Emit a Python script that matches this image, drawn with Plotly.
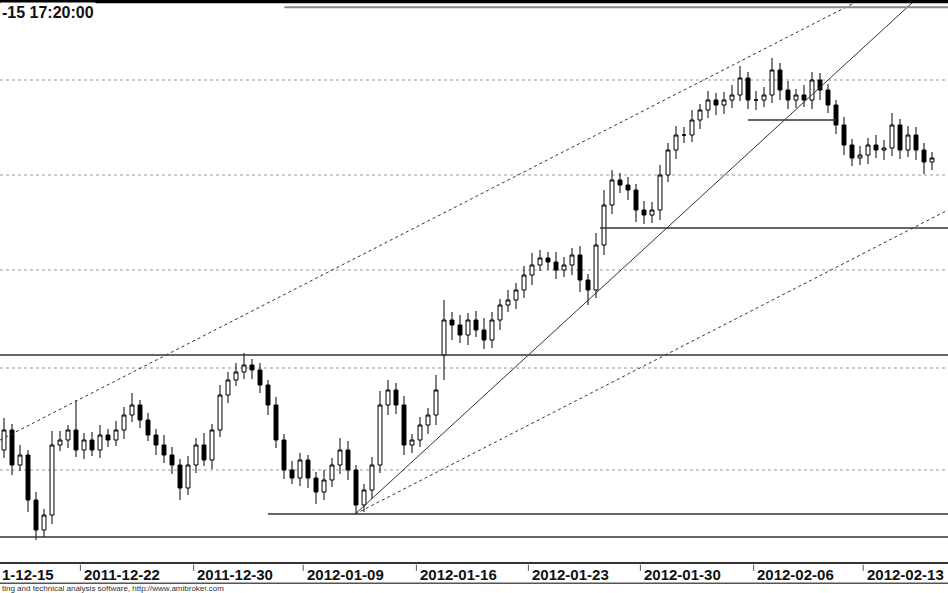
import plotly.graph_objects as go

# bar closes (chart units), one bar per ~1/7 trading day
close = [170, 135, 145, 100, 70, 85, 155, 160, 170, 150,
         160, 150, 165, 160, 170, 185, 195, 180, 165, 155,
         145, 135, 112, 135, 155, 140, 170, 205, 220, 228,
         235, 230, 215, 195, 160, 130, 122, 140, 122, 108,
         120, 135, 150, 130, 95, 110, 135, 195, 210, 195,
         155, 160, 175, 185, 210, 280, 275, 265, 280, 270,
         260, 280, 295, 300, 310, 325, 335, 342, 338, 330,
         335, 345, 320, 310, 355, 395, 420, 415, 410, 390,
         385, 390, 425, 450, 465, 465, 480, 490, 500, 495,
         500, 505, 522, 500, 500, 505, 530, 510, 500, 505,
         500, 520, 510, 495, 475, 455, 442, 445, 455, 450,
         452, 475, 450, 465, 450, 438, 442]
opens = [150, 170, 135, 145, 100, 70, 85, 155, 160, 170,
         150, 160, 150, 165, 160, 170, 185, 195, 180, 165,
         155, 145, 135, 112, 135, 155, 140, 170, 205, 220,
         228, 235, 230, 215, 195, 160, 130, 122, 140, 122,
         108, 120, 135, 150, 130, 95, 110, 135, 195, 210,
         195, 155, 160, 175, 185, 245, 280, 275, 265, 280,
         270, 260, 280, 295, 300, 310, 325, 335, 342, 338,
         330, 335, 345, 320, 310, 355, 395, 420, 415, 410,
         390, 385, 390, 425, 450, 465, 465, 480, 490, 500,
         495, 500, 505, 522, 500, 500, 505, 530, 510, 500,
         505, 500, 520, 510, 495, 475, 455, 442, 445, 455,
         450, 452, 475, 450, 465, 450, 438]
wick_up = [12, 6, 10, 5, 8, 6, 14, 9, 5, 30,
           7, 8, 10, 6, 9, 8, 12, 5, 7, 6,
           10, 8, 6, 9, 7, 12, 6, 10, 8, 9,
           12, 6, 7, 5, 8, 6, 9, 7, 5, 6,
           10, 7, 12, 9, 5, 6, 8, 14, 10, 7,
           9, 6, 8, 7, 15, 20, 8, 10, 7, 9,
           12, 8, 6, 10, 7, 9, 12, 8, 6, 10,
           8, 7, 9, 6, 12, 15, 10, 7, 8, 6,
           9, 8, 10, 7, 9, 8, 10, 6, 9, 7,
           8, 10, 12, 6, 9, 8, 12, 7, 9, 6,
           10, 8, 7, 6, 5, 8, 6, 9, 7, 10,
           8, 12, 6, 9, 8, 7, 6]
wick_dn = [8, 10, 6, 12, 10, 7, 9, 6, 8, 7,
           9, 6, 8, 7, 6, 9, 7, 8, 6, 10,
           8, 9, 12, 7, 8, 6, 9, 7, 8, 6,
           7, 9, 8, 10, 8, 9, 6, 8, 10, 12,
           8, 7, 9, 10, 8, 7, 9, 8, 10, 9,
           10, 8, 7, 9, 10, 25, 15, 8, 10, 7,
           9, 8, 10, 7, 9, 8, 10, 6, 8, 9,
           7, 10, 12, 15, 8, 10, 9, 8, 10, 12,
           9, 8, 10, 7, 9, 8, 7, 9, 8, 10,
           9, 8, 6, 9, 10, 7, 8, 10, 9, 8,
           7, 9, 10, 8, 9, 10, 8, 7, 9, 8,
           10, 8, 9, 7, 10, 12, 8]

high = [max(o, c) + w for o, c, w in zip(opens, close, wick_up)]
low = [min(o, c) - w for o, c, w in zip(opens, close, wick_dn)]
bars = list(range(len(close)))

week_labels = ["2011-12-22", "2011-12-30", "2012-01-09", "2012-01-16",
               "2012-01-23", "2012-01-30", "2012-02-06", "2012-02-13"]
week_pos = [9.75, 23.9, 37.6, 51.75, 65.75, 79.75, 93.9, 107.6]

grid_levels = [520, 425, 330, 232, 130]
support_lines = [(-0.5, 118, 245), (-0.5, 118, 63), (33, 118, 86), (74.5, 118, 372), (93, 104, 480)]
trend_lines = [  # x0, y0, x1, y1, dash
    (43.9, 86, 113.9, 600, "solid"),
    (-0.5, 160, 107, 600, "dash"),
    (43.9, 86, 118, 390, "dash"),
]

fig = go.Figure(go.Candlestick(
    x=bars, open=opens, high=high, low=low, close=close,
    increasing=dict(line=dict(color="black", width=1), fillcolor="white"),
    decreasing=dict(line=dict(color="black", width=1), fillcolor="black"),
    whiskerwidth=0, showlegend=False))

for g in grid_levels:
    fig.add_shape(type="line", x0=-0.5, x1=118, y0=g, y1=g,
                  line=dict(color="#999", width=1, dash="dot"), layer="below")
for x0, x1, y in support_lines:
    fig.add_shape(type="line", x0=x0, x1=x1, y0=y, y1=y, line=dict(color="#333", width=1.3))
for x0, y0, x1, y1, d in trend_lines:
    fig.add_shape(type="line", x0=x0, y0=y0, x1=x1, y1=y1,
                  line=dict(color="#333", width=1, dash=d if d == "solid" else "3px,3px"))

# frame lines
fig.add_shape(type="line", xref="paper", yref="paper", x0=0, x1=1, y0=0.998, y1=0.998,
              line=dict(color="black", width=4))
fig.add_shape(type="line", xref="paper", yref="paper", x0=0.3, x1=1, y0=0.987, y1=0.987,
              line=dict(color="#888", width=2))
fig.add_shape(type="line", xref="paper", yref="paper", x0=0, x1=1, y0=0, y1=0,
              line=dict(color="#333", width=2))
fig.add_shape(type="line", xref="paper", yref="paper", x0=0, x1=1, y0=-0.036, y1=-0.036,
              line=dict(color="#555", width=1.5))

for lab, p in zip(week_labels, week_pos):
    fig.add_annotation(x=p, y=-0.002, xref="x", yref="paper", yanchor="top", xanchor="left",
                       text="<b>" + lab + "</b>", showarrow=False, font=dict(size=15, color="#111"))
    fig.add_shape(type="line", x0=p - 0.2, x1=p - 0.2, yref="paper", y0=-0.003, y1=-0.014,
                  line=dict(color="#555", width=1))
fig.add_annotation(x=0, y=-0.002, xref="paper", yref="paper", yanchor="top", xanchor="left",
                   text="<b>1-12-15</b>", showarrow=False, font=dict(size=15, color="#111"))
fig.add_annotation(x=0, y=-0.034, xref="paper", yref="paper", yanchor="top", xanchor="left",
                   text="ting and technical analysis software, http://www.amibroker.com",
                   showarrow=False, font=dict(size=8, color="#333"))
fig.add_annotation(x=0, y=0.996, xref="paper", yref="paper", yanchor="top", xanchor="left",
                   text="<b>-15 17:20:00</b>", showarrow=False, bgcolor="white",
                   font=dict(size=16, color="#111"))

fig.update_layout(
    width=948, height=593, margin=dict(l=0, r=0, t=0, b=30),
    paper_bgcolor="white", plot_bgcolor="white",
    font=dict(family="Liberation Sans"),
    xaxis=dict(range=[-0.5, 118], showgrid=False, showticklabels=False, zeroline=False,
               rangeslider=dict(visible=False)),
    yaxis=dict(range=[37, 600], showgrid=False, showticklabels=False, zeroline=False),
)

fig.write_html("out.html", config={"displayModeBar": False},
               post_script="document.body.style.margin='0';")
